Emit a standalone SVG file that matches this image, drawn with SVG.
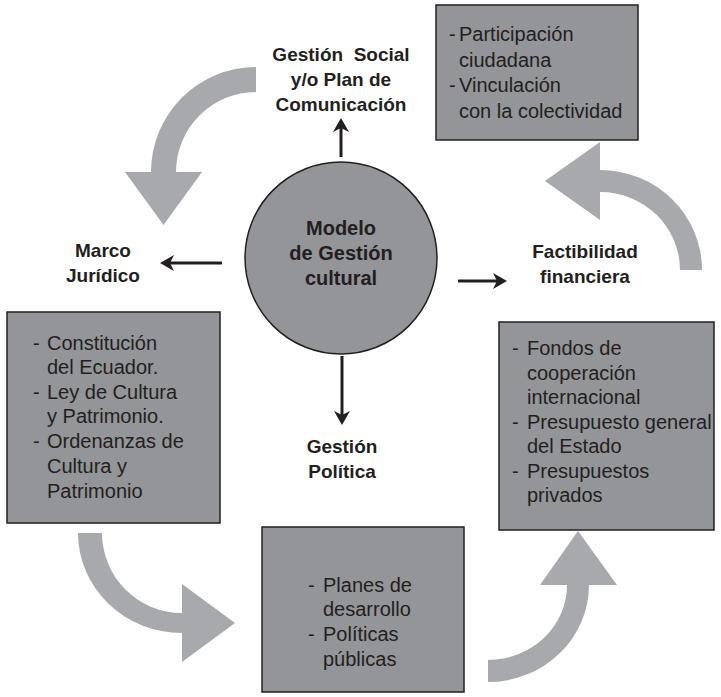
<svg xmlns="http://www.w3.org/2000/svg" width="721" height="697" viewBox="0 0 721 697">
<defs>
<style>
.bg{fill:#ffffff}
.curve{fill:#a7a9ac;stroke:none}
.box{fill:#939598;stroke:#231f20;stroke-width:1.5}
.lbl{font-family:"Liberation Sans",Arial,sans-serif;font-weight:bold;font-size:19px;fill:#231f20;text-anchor:middle}
.ctr{font-family:"Liberation Sans",Arial,sans-serif;font-weight:bold;font-size:20px;fill:#231f20;text-anchor:middle}
.txt{font-family:"Liberation Sans",Arial,sans-serif;font-size:20px;fill:#231f20}
.conn{stroke:#231f20;stroke-width:3;fill:none;marker-end:url(#ah)}
</style>
<marker id="ah" viewBox="0 0 14 16" refX="4" refY="8" markerWidth="14" markerHeight="16" markerUnits="userSpaceOnUse" orient="auto">
<path d="M0,0 L14,8 L0,16 L4,8 Z" fill="#231f20"/>
</marker>
</defs>
<rect class="bg" x="0" y="0" width="721" height="697"/>
<g id="cycle-arrows">
<path class="curve" d="M256,67 A105 105 0 0 0 151,172 L125,172 L163.5,225 L202,172 L176,172 A80 80 0 0 1 256,92 Z"/>
<path class="curve" d="M702,270 A102 100 0 0 0 600,170 L600,142 L545,181 L600,220 L600,192 A80 78 0 0 1 680,270 Z"/>
<path class="curve" d="M78,533 A104 100 0 0 0 182,633 L182,662 L235,623 L182,584 L182,613 A80 80 0 0 1 102,533 Z"/>
<path class="curve" d="M488,682 A101 97 0 0 0 589,585 L617,585 L578,531 L540,585 L567,585 A79 75 0 0 1 488,660 Z"/>
</g>
<g id="connectors">
<line class="conn" x1="341" y1="157" x2="341" y2="128"/>
<line class="conn" x1="222" y1="263" x2="170" y2="263"/>
<line class="conn" x1="458" y1="281" x2="497" y2="281"/>
<line class="conn" x1="342" y1="356" x2="342" y2="415"/>
</g>
<g id="center">
<circle cx="341" cy="258" r="96" fill="#939598" stroke="#231f20" stroke-width="1.5"/>
<text class="ctr" x="341" y="235">Modelo</text>
<text class="ctr" x="341" y="260">de Gestión</text>
<text class="ctr" x="341" y="285">cultural</text>
</g>
<g id="gestion-social">
<text class="lbl" x="341" y="61" xml:space="preserve">Gestión  Social</text>
<text class="lbl" x="341" y="86">y/o Plan de</text>
<text class="lbl" x="341" y="111">Comunicación</text>
</g>
<g id="marco-juridico">
<text class="lbl" x="103" y="257">Marco</text>
<text class="lbl" x="103" y="282">Jurídico</text>
</g>
<g id="factibilidad">
<text class="lbl" x="585" y="258">Factibilidad</text>
<text class="lbl" x="585" y="283">financiera</text>
</g>
<g id="gestion-politica">
<text class="lbl" x="342" y="453">Gestión</text>
<text class="lbl" x="342" y="478">Política</text>
</g>
<g id="box-social">
<rect class="box" x="436" y="5" width="202" height="135"/>
<text class="txt" x="449" y="41">-</text><text class="txt" x="459" y="41">Participación</text>
<text class="txt" x="459" y="67">ciudadana</text>
<text class="txt" x="449" y="92">-</text><text class="txt" x="459" y="92">Vinculación</text>
<text class="txt" x="459" y="118">con la colectividad</text>
</g>
<g id="box-juridico">
<rect class="box" x="7" y="312" width="213" height="211"/>
<text class="txt" x="33" y="350">-</text><text class="txt" x="47" y="350">Constitución</text>
<text class="txt" x="47" y="374">del Ecuador.</text>
<text class="txt" x="33" y="399">-</text><text class="txt" x="47" y="399">Ley de Cultura</text>
<text class="txt" x="47" y="423">y Patrimonio.</text>
<text class="txt" x="33" y="448">-</text><text class="txt" x="47" y="448">Ordenanzas de</text>
<text class="txt" x="47" y="473">Cultura y</text>
<text class="txt" x="47" y="498">Patrimonio</text>
</g>
<g id="box-financiera">
<rect class="box" x="499" y="322" width="215" height="208"/>
<text class="txt" x="512" y="355">-</text><text class="txt" x="527" y="355">Fondos de</text>
<text class="txt" x="527" y="380">cooperación</text>
<text class="txt" x="527" y="404">internacional</text>
<text class="txt" x="512" y="429">-</text><text class="txt" x="527" y="429">Presupuesto general</text>
<text class="txt" x="527" y="453">del Estado</text>
<text class="txt" x="512" y="478">-</text><text class="txt" x="527" y="478">Presupuestos</text>
<text class="txt" x="527" y="502">privados</text>
</g>
<g id="box-politica">
<rect class="box" x="262" y="527" width="202" height="165"/>
<text class="txt" x="308" y="592">-</text><text class="txt" x="323" y="592">Planes de</text>
<text class="txt" x="323" y="616">desarrollo</text>
<text class="txt" x="308" y="641">-</text><text class="txt" x="323" y="641">Políticas</text>
<text class="txt" x="323" y="666">públicas</text>
</g>
</svg>
